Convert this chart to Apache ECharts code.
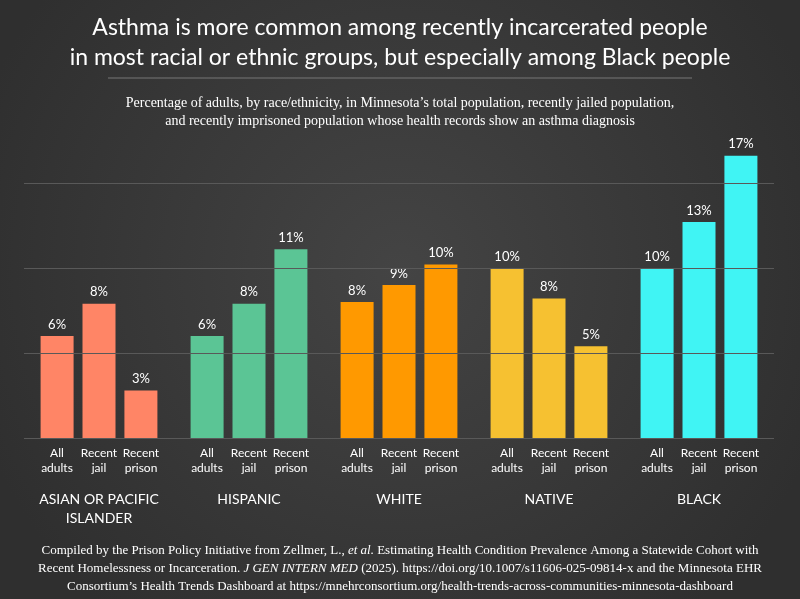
<!DOCTYPE html>
<html>
<head>
<meta charset="utf-8">
<style>
  html, body { margin: 0; padding: 0; background: #3a3a3a; }
  #chart { width: 800px; height: 599px; }
</style>
<script src="https://cdn.jsdelivr.net/npm/echarts@6/dist/echarts.min.js"></script>
</head>
<body>
<div id="chart"></div>
<script>
// groups along the x axis
var groups = ['ASIAN OR PACIFIC\nISLANDER', 'HISPANIC', 'WHITE', 'NATIVE', 'BLACK'];
var subLabels = ['All\nadults', 'Recent\njail', 'Recent\nprison'];
var groupColors = ['#ff8566', '#5bc595', '#ff9900', '#f6c131', '#40f4f4'];
// asthma % by group
var allAdults = [6.0, 6.0, 8.0, 10.0, 10.0];
var recentJail = [7.9, 7.9, 9.0, 8.2, 12.7];
var recentPrison = [2.8, 11.1, 10.2, 5.4, 16.6];
var gridValues = [0, 5, 10, 15];

var chart = echarts.init(document.getElementById('chart'));
var sans = 'Lato, "Open Sans", sans-serif';
var serif = '"Liberation Serif", "DejaVu Serif", serif';

function makeSeries(vals, name) {
    return {
        name: name,
        type: 'bar',
        barWidth: 33,
        barGap: '27%',
        data: vals.map(function (v, i) {
            return { value: v, itemStyle: { color: groupColors[i] } };
        }),
        label: {
            show: true, position: 'top', distance: 5,
            color: '#fff', fontSize: 13, fontFamily: sans,
            formatter: function (p) { return Math.round(p.value) + '%'; }
        }
    };
}

var series = [
    makeSeries(allAdults, 'All adults'),
    makeSeries(recentJail, 'Recent jail'),
    makeSeries(recentPrison, 'Recent prison')
];
series[0].markLine = {
    silent: true, symbol: 'none', label: { show: false },
    lineStyle: { color: '#595959', type: 'solid', width: 1 },
    data: gridValues.map(function (v) { return { yAxis: v }; })
};

var footer = '{n|Compiled by the Prison Policy Initiative from Zellmer, L., }{i|et al.}{n| Estimating Health Condition Prevalence Among a Statewide Cohort with}\n' +
    '{n|Recent Homelessness or Incarceration. }{i|J GEN INTERN MED}{n| (2025). https://doi.org/10.1007/s11606-025-09814-x and the Minnesota EHR}\n' +
    '{n|Consortium\u2019s Health Trends Dashboard at https://mnehrconsortium.org/health-trends-across-communities-minnesota-dashboard}';

var option = {
    backgroundColor: {
        type: 'radial', x: 0.5, y: 0.45, r: 0.75,
        colorStops: [{ offset: 0, color: '#444444' }, { offset: 1, color: '#2f2f2f' }]
    },
    title: [{
        text: 'Asthma is more common among recently incarcerated people\nin most racial or ethnic groups, but especially among Black people',
        left: 'center', top: 8,
        textStyle: { color: '#fff', fontSize: 23, fontWeight: 'normal', fontFamily: sans, lineHeight: 30 }
    }, {
        text: 'Percentage of adults, by race/ethnicity, in Minnesota\u2019s total population, recently jailed population,\nand recently imprisoned population whose health records show an asthma diagnosis',
        left: 'center', top: 89,
        textStyle: { color: '#fff', fontSize: 14, fontWeight: 'normal', fontFamily: serif, lineHeight: 18 }
    }],
    grid: { left: 24, right: 26, top: 98, bottom: 161 },
    xAxis: {
        type: 'category', data: groups,
        axisLine: { show: false }, axisTick: { show: false },
        axisLabel: { color: '#fff', fontSize: 14, fontFamily: sans, margin: 52, lineHeight: 19, interval: 0 }
    },
    yAxis: {
        type: 'value', min: 0, max: 20,
        axisLine: { show: false }, axisTick: { show: false },
        axisLabel: { show: false }, splitLine: { show: false }
    },
    series: series
};
chart.setOption(option);

var graphics = [{
    type: 'line', shape: { x1: 108, y1: 78, x2: 692, y2: 78 },
    style: { stroke: '#777', lineWidth: 1 }
}, {
    type: 'text', x: 400, y: 542,
    style: {
        text: footer, align: 'center', verticalAlign: 'top',
        rich: {
            n: { fill: '#fff', fontSize: 13, fontFamily: serif, fontWeight: 'normal', lineHeight: 18 },
            i: { fill: '#fff', fontSize: 13, fontFamily: serif, fontWeight: 'normal', fontStyle: 'italic', lineHeight: 18 }
        }
    }
}];
// sub-labels under each bar, placed from the axis positions
groups.forEach(function (g, gi) {
    var c = chart.convertToPixel({ xAxisIndex: 0 }, gi);
    subLabels.forEach(function (s, si) {
        graphics.push({
            type: 'text', x: c + (si - 1) * 42, y: 446,
            style: { text: s, fill: '#fff', font: '12px ' + sans, align: 'center', verticalAlign: 'top', lineHeight: 15 }
        });
    });
});
chart.setOption({ graphic: graphics });
</script>
</body>
</html>
